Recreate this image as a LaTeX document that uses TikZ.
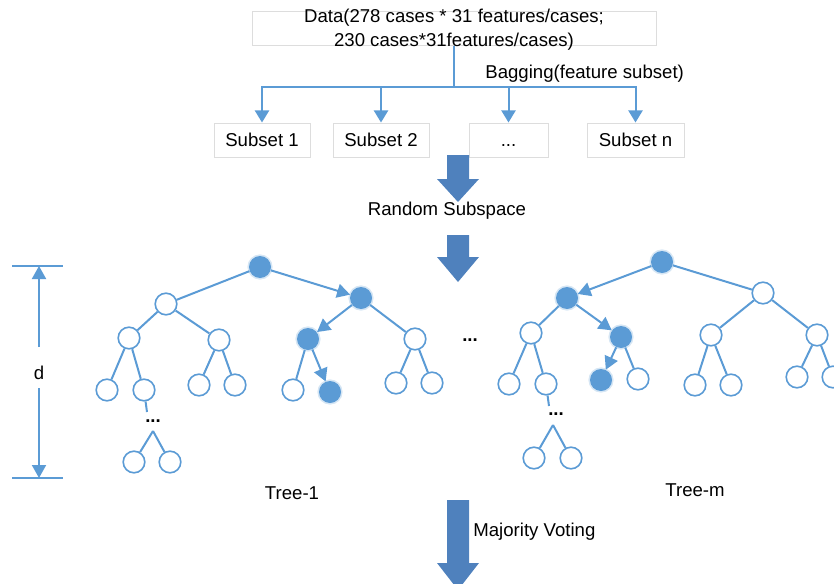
\documentclass[tikz,border=0pt]{standalone}
\usepackage{fontspec}
\setmainfont{Liberation Sans}
\usetikzlibrary{arrows.meta}
\definecolor{lineblue}{HTML}{5B9BD5}
\definecolor{arrowblue}{HTML}{4F81BD}
\definecolor{boxgray}{HTML}{DDDDDD}
\tikzset{
  lbl/.style={font=\fontsize{9.3}{12}\selectfont, text=black, inner sep=0pt, align=center},
  dots/.style={font=\fontsize{9.3}{12}\selectfont\bfseries, text=black, inner sep=0pt, anchor=base},
  frame/.style={draw=boxgray, line width=0.5pt, inner sep=0pt, minimum height=17pt},
  leaf/.style={circle, draw=lineblue, fill=white, line width=0.8pt, minimum size=10.8pt, inner sep=0pt},
  hot/.style={circle, fill=lineblue, minimum size=11pt, inner sep=0pt,
    preaction={draw=lineblue, draw opacity=0.25, line width=1.6pt}},
  edge/.style={draw=lineblue, line width=1pt},
  tip/.style={-{Triangle[length=6.5pt,width=7pt]}},
  bigtip/.style={-{Triangle[length=6pt,width=7pt]}},
  blockarrow/.style={fill=arrowblue, draw=none}
}
\begin{document}
\begin{tikzpicture}[x=0.5pt, y=-0.5pt]
\useasboundingbox (0,0) rectangle (834,583);

% ---------- data and subsets ----------
\node[frame, minimum width=202pt] (databox) at (454,28.5) {};
\node[lbl] (datatext) at (454,30) {Data(278 cases * 31 features/cases;\\230 cases*31features/cases)};
\node[lbl, anchor=west] (bagging) at (485,74) {Bagging(feature subset)};

\node[frame, minimum width=48pt]   (s1) at (262,140) {};
\node[frame, minimum width=48pt]   (s2) at (381,140) {};
\node[frame, minimum width=39.5pt] (s3) at (508.5,140) {};
\node[frame, minimum width=48.5pt] (s4) at (635.5,140) {};
\node[lbl, anchor=base] (t1) at (262,146) {Subset 1};
\node[lbl, anchor=base] (t2) at (381,146) {Subset 2};
\node[lbl, anchor=base] (t3) at (508.5,146) {...};
\node[lbl, anchor=base] (t4) at (635.5,146) {Subset n};

\coordinate (split) at (454,87);
\draw[edge] (databox.south) -- (split);
\draw[edge, bigtip] (split) -| (s1.north);
\draw[edge, bigtip] (split) -| (s2.north);
\draw[edge, bigtip] (split) -| (s3.north);
\draw[edge, bigtip] (split) -| (s4.north);

% ---------- block arrows ----------
\fill[blockarrow] (447,155) -- (469,155) -- (469,179) -- (479,179) -- (458,202) -- (437,179) -- (447,179) -- cycle;
\node[lbl] (rs) at (447,211) {Random Subspace};
\fill[blockarrow] (447,235) -- (469,235) -- (469,257) -- (479,257) -- (458,282) -- (437,257) -- (447,257) -- cycle;
\fill[blockarrow] (447,500) -- (469,500) -- (469,563) -- (479,563) -- (458,590) -- (437,563) -- (447,563) -- cycle;
\node[lbl, anchor=west] (mv) at (473,532) {Majority Voting};

% ---------- depth marker ----------
\coordinate (dtl) at (12,266);
\coordinate (dtr) at (63,266);
\coordinate (dbl) at (12,478);
\coordinate (dbr) at (63,478);
\coordinate (dtop) at (39,266);
\coordinate (dbot) at (39,478);
\coordinate (dup) at (39,347);
\coordinate (ddown) at (39,388);
\draw[edge] (dtl) -- (dtr);
\draw[edge] (dbl) -- (dbr);
\draw[edge, tip] (dup) -- (dtop);
\draw[edge, tip] (ddown) -- (dbot);
\node[lbl] (d) at (39,373) {d};

% ---------- Tree-1 ----------
\node[hot]  (a)    at (260,267) {};
\node[leaf] (aL)   at (166,304) {};
\node[hot]  (aR)   at (361,298) {};
\node[leaf] (aLL)  at (129,338) {};
\node[leaf] (aLR)  at (219,340) {};
\node[hot]  (aRL)  at (308,339) {};
\node[leaf] (aRR)  at (415,339) {};
\node[leaf] (aLLL) at (107,390) {};
\node[leaf] (aLLR) at (144,390) {};
\node[leaf] (aLRL) at (199,385) {};
\node[leaf] (aLRR) at (235,385) {};
\node[leaf] (aRLL) at (293,390) {};
\node[hot]  (aRLR) at (330,392) {};
\node[leaf] (aRRL) at (396,383) {};
\node[leaf] (aRRR) at (432,383) {};
\node[dots] (adots) at (153,422) {...};
\coordinate (adotend) at (147,412);
\coordinate (aapex) at (153,431);
\node[leaf] (aX1) at (134,462) {};
\node[leaf] (aX2) at (170,462) {};

\draw[edge] (a) -- (aL);
\draw[edge, tip] (a) -- (aR);
\draw[edge] (aL) -- (aLL);
\draw[edge] (aL) -- (aLR);
\draw[edge, tip] (aR) -- (aRL);
\draw[edge] (aR) -- (aRR);
\draw[edge] (aLL) -- (aLLL);
\draw[edge] (aLL) -- (aLLR);
\draw[edge] (aLR) -- (aLRL);
\draw[edge] (aLR) -- (aLRR);
\draw[edge] (aRL) -- (aRLL);
\draw[edge, tip] (aRL) -- (aRLR);
\draw[edge] (aRR) -- (aRRL);
\draw[edge] (aRR) -- (aRRR);
\draw[edge] (aLLR) -- (adotend);
\draw[edge] (aapex) -- (aX1);
\draw[edge] (aapex) -- (aX2);
\node[lbl] (tree1) at (292,493) {Tree-1};

\node[dots] (middots) at (470,341) {...};

% ---------- Tree-m ----------
\node[hot]  (b)    at (662,262) {};
\node[hot]  (bL)   at (567,298) {};
\node[leaf] (bR)   at (763,293) {};
\node[leaf] (bLL)  at (531,333) {};
\node[hot]  (bLR)  at (621,337) {};
\node[leaf] (bRL)  at (711,335) {};
\node[leaf] (bRR)  at (817,335) {};
\node[leaf] (bLLL) at (509,384) {};
\node[leaf] (bLLR) at (546,384) {};
\node[hot]  (bLRL) at (601,380) {};
\node[leaf] (bLRR) at (638,379) {};
\node[leaf] (bRLL) at (695,385) {};
\node[leaf] (bRLR) at (731,385) {};
\node[leaf] (bRRL) at (797,377) {};
\node[leaf] (bRRR) at (833,377) {};
\node[dots] (bdots) at (556,415) {...};
\coordinate (bdotend) at (549,406);
\coordinate (bapex) at (553,425);
\node[leaf] (bX1) at (534,458) {};
\node[leaf] (bX2) at (571,458) {};

\draw[edge, tip] (b) -- (bL);
\draw[edge] (b) -- (bR);
\draw[edge] (bL) -- (bLL);
\draw[edge, tip] (bL) -- (bLR);
\draw[edge] (bR) -- (bRL);
\draw[edge] (bR) -- (bRR);
\draw[edge] (bLL) -- (bLLL);
\draw[edge] (bLL) -- (bLLR);
\draw[edge, tip] (bLR) -- (bLRL);
\draw[edge] (bLR) -- (bLRR);
\draw[edge] (bRL) -- (bRLL);
\draw[edge] (bRL) -- (bRLR);
\draw[edge] (bRR) -- (bRRL);
\draw[edge] (bRR) -- (bRRR);
\draw[edge] (bLLR) -- (bdotend);
\draw[edge] (bapex) -- (bX1);
\draw[edge] (bapex) -- (bX2);
\node[lbl] (treem) at (695,490) {Tree-m};
\end{tikzpicture}
\end{document}
